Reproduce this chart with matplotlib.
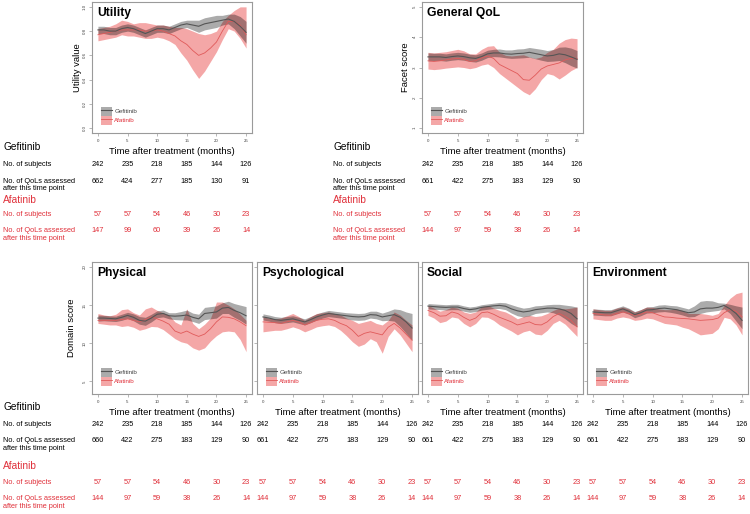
import matplotlib
matplotlib.use("Agg")
import matplotlib.pyplot as plt
from matplotlib.patches import Patch
from matplotlib.lines import Line2D
from matplotlib.transforms import blended_transform_factory

plt.rcParams['font.family'] = ['Liberation Sans', 'DejaVu Sans']

# ---- data -------------------------------------------------------------
months = list(range(26))
tick_months = [0, 5, 10, 15, 20, 25]

util_gef = [.81, .81, .80, .80, .82, .83, .82, .80, .78, .80, .82, .82, .81,
            .83, .85, .86, .85, .84, .86, .87, .88, .89, .90, .88, .84, .79]
util_gef_lo = [.78, .78, .77, .77, .79, .80, .79, .77, .75, .77, .79, .79, .78,
               .80, .82, .83, .81, .79, .81, .82, .83, .85, .86, .82, .76, .70]
util_gef_hi = [.84, .84, .83, .83, .85, .86, .85, .83, .81, .83, .85, .85, .84,
               .86, .88, .89, .89, .89, .91, .92, .93, .93, .94, .94, .92, .88]
util_afa = [.77, .78, .79, .80, .81, .81, .81, .81, .80, .80, .81, .80, .78,
            .76, .72, .69, .64, .60, .62, .66, .71, .80, .88, .88, .85, .77]
util_afa_lo = [.72, .73, .74, .75, .77, .76, .76, .75, .74, .74, .75, .74, .72,
               .69, .62, .56, .48, .41, .47, .55, .63, .73, .82, .80, .74, .66]
util_afa_hi = [.82, .83, .84, .86, .89, .88, .86, .87, .87, .86, .85, .85, .84,
               .83, .83, .82, .80, .78, .77, .78, .80, .88, .93, .97, 1.0, 1.0]

qol_gef = [3.35, 3.35, 3.35, 3.33, 3.36, 3.38, 3.36, 3.32, 3.30, 3.36, 3.45,
           3.48, 3.48, 3.45, 3.44, 3.46, 3.47, 3.50, 3.46, 3.42, 3.38, 3.40,
           3.45, 3.42, 3.35, 3.27]
qol_gef_lo = [3.22, 3.23, 3.23, 3.21, 3.24, 3.26, 3.24, 3.20, 3.18, 3.24, 3.33,
              3.36, 3.35, 3.32, 3.30, 3.31, 3.32, 3.34, 3.29, 3.24, 3.20, 3.21,
              3.23, 3.16, 3.06, 2.98]
qol_gef_hi = [3.48, 3.47, 3.47, 3.45, 3.48, 3.50, 3.48, 3.44, 3.42, 3.48, 3.57,
              3.60, 3.61, 3.58, 3.58, 3.61, 3.62, 3.66, 3.63, 3.60, 3.56, 3.59,
              3.67, 3.68, 3.64, 3.56]
qol_afa = [3.22, 3.20, 3.22, 3.25, 3.28, 3.30, 3.27, 3.20, 3.22, 3.32, 3.38,
           3.30, 3.10, 3.00, 2.90, 2.80, 2.60, 2.58, 2.75, 2.95, 3.05, 3.10,
           3.15, 3.25, 3.30, 3.30]
qol_afa_lo = [2.95, 2.93, 2.95, 2.98, 3.00, 3.02, 3.00, 2.96, 3.00, 3.08, 3.12,
              3.00, 2.80, 2.65, 2.50, 2.35, 2.20, 2.10, 2.30, 2.60, 2.80, 2.75,
              2.62, 2.75, 2.90, 3.00]
qol_afa_hi = [3.50, 3.48, 3.50, 3.52, 3.56, 3.60, 3.55, 3.45, 3.45, 3.60, 3.70,
              3.72, 3.50, 3.40, 3.38, 3.40, 3.42, 3.35, 3.30, 3.35, 3.50, 3.60,
              3.80, 3.92, 3.97, 3.95]

phys_gef = [13.3, 13.3, 13.25, 13.2, 13.4, 13.65, 13.4, 13.0, 12.9, 13.3, 13.8,
            13.9, 13.6, 13.55, 13.6, 13.7, 13.4, 13.2, 13.9, 14.0, 14.1, 14.6,
            14.7, 14.3, 14.0, 13.6]
phys_gef_lo = [12.9, 12.95, 12.9, 12.85, 13.0, 13.25, 12.95, 12.5, 12.35, 12.8,
               13.35, 13.45, 13.2, 13.1, 13.05, 13.05, 12.85, 12.6, 13.1, 13.2,
               13.3, 13.9, 13.9, 13.4, 13.0, 12.5]
phys_gef_hi = [13.7, 13.65, 13.6, 13.55, 13.8, 14.05, 13.85, 13.5, 13.4, 13.8,
               14.25, 14.35, 14.0, 14.0, 14.15, 14.35, 13.95, 13.8, 14.7, 14.8,
               14.9, 15.3, 15.5, 15.2, 15.0, 14.8]
phys_afa = [13.0, 13.0, 13.0, 13.0, 13.1, 13.2, 13.0, 12.8, 13.1, 13.45, 13.2,
            12.9, 12.5, 11.6, 11.3, 11.6, 11.2, 10.9, 11.2, 11.9, 12.8, 13.45,
            13.4, 13.2, 12.8, 12.3]
phys_afa_lo = [12.6, 12.5, 12.4, 12.4, 12.2, 12.3, 12.1, 11.7, 11.9, 12.2,
               12.15, 11.8, 11.2, 10.6, 10.2, 10.0, 9.4, 9.1, 9.4, 10.3, 11.0,
               11.5, 11.6, 11.5, 10.5, 8.9]
phys_afa_hi = [13.9, 13.7, 13.6, 13.8, 14.4, 14.5, 14.0, 13.7, 14.5, 14.75,
               14.3, 14.0, 13.7, 12.8, 12.4, 14.5, 12.6, 11.9, 12.5, 13.3, 15.4,
               15.4, 15.0, 14.5, 13.8, 13.0]

psy_gef = [13.45, 13.3, 13.1, 13.0, 13.1, 13.2, 13.0, 12.8, 13.1, 13.45, 13.7,
           13.9, 13.8, 13.7, 13.6, 13.5, 13.45, 13.5, 13.75, 13.7, 13.45, 13.6,
           13.75, 13.4, 12.8, 12.0]
psy_gef_lo = [13.05, 12.9, 12.7, 12.6, 12.7, 12.8, 12.6, 12.4, 12.7, 13.05,
              13.3, 13.5, 13.4, 13.3, 13.2, 13.05, 13.0, 13.05, 13.3, 13.2,
              12.95, 13.0, 12.9, 12.2, 11.3, 10.4]
psy_gef_hi = [13.85, 13.7, 13.5, 13.4, 13.5, 13.6, 13.4, 13.2, 13.5, 13.85,
              14.1, 14.3, 14.2, 14.1, 14.0, 13.95, 13.9, 13.95, 14.2, 14.2,
              13.95, 14.2, 14.5, 14.4, 14.1, 13.9]
psy_afa = [12.8, 12.75, 12.7, 12.6, 12.8, 13.0, 12.8, 12.4, 12.7, 13.0, 13.15,
           13.2, 13.0, 12.6, 12.3, 11.7, 10.9, 11.3, 11.5, 11.3, 11.1, 12.1,
           12.6, 12.0, 11.2, 10.4]
psy_afa_lo = [11.5, 11.6, 11.7, 11.7, 11.9, 12.15, 11.9, 11.5, 11.8, 12.15,
              12.3, 12.4, 12.2, 11.7, 11.0, 10.2, 9.6, 9.9, 10.6, 10.2, 8.7,
              10.9, 11.9, 11.1, 10.0, 8.9]
psy_afa_hi = [13.45, 13.3, 13.2, 13.3, 13.6, 13.9, 13.5, 13.0, 13.5, 13.9,
              14.0, 14.1, 13.9, 13.7, 13.3, 13.0, 12.6, 12.8, 13.0, 12.6, 12.4,
              13.0, 14.1, 13.7, 13.0, 12.4]

soc_gef = [14.87, 14.8, 14.74, 14.7, 14.74, 14.74, 14.55, 14.4, 14.5, 14.7,
           14.8, 14.9, 14.96, 14.85, 14.5, 14.25, 14.1, 14.2, 14.4, 14.5, 14.6,
           14.6, 14.5, 14.3, 13.9, 13.2]
soc_gef_lo = [14.5, 14.45, 14.4, 14.35, 14.4, 14.4, 14.2, 14.05, 14.15, 14.35,
              14.45, 14.55, 14.55, 14.4, 13.95, 13.6, 13.45, 13.6, 13.9, 14.0,
              14.1, 14.0, 13.7, 13.2, 12.6, 12.15]
soc_gef_hi = [15.2, 15.15, 15.1, 15.05, 15.1, 15.1, 14.9, 14.75, 14.85, 15.05,
              15.15, 15.25, 15.35, 15.3, 15.05, 14.8, 14.6, 14.7, 14.9, 14.95,
              15.05, 15.1, 15.1, 15.0, 14.9, 14.74]
soc_afa = [14.3, 14.0, 13.55, 13.6, 14.1, 13.9, 13.4, 13.0, 13.3, 14.0, 14.1,
           13.8, 13.4, 13.1, 12.8, 12.4, 12.6, 12.8, 12.45, 12.4, 12.8, 13.5,
           13.9, 13.5, 13.0, 12.15]
soc_afa_lo = [13.66, 13.3, 12.7, 12.9, 13.45, 13.3, 12.6, 12.15, 12.6, 13.45,
              13.4, 13.0, 12.4, 12.0, 11.6, 11.1, 11.5, 11.7, 11.2, 11.1, 11.7,
              12.6, 13.0, 12.5, 11.7, 10.9]
soc_afa_hi = [14.96, 14.6, 14.2, 14.4, 14.74, 14.6, 14.1, 13.9, 14.1, 14.8,
              14.96, 14.6, 14.3, 14.1, 13.7, 13.2, 13.5, 13.66, 13.5, 13.6,
              13.9, 14.3, 14.6, 14.5, 14.6, 14.74]

env_gef = [14.1, 14.05, 14.0, 14.0, 14.25, 14.5, 14.2, 13.75, 14.0, 14.35,
           14.4, 14.55, 14.6, 14.5, 14.4, 14.2, 14.0, 14.1, 14.5, 14.6, 14.6,
           14.7, 14.95, 14.5, 13.9, 13.0]
env_gef_lo = [13.7, 13.65, 13.6, 13.6, 13.85, 14.1, 13.8, 13.35, 13.6, 13.95,
              14.0, 14.1, 14.15, 14.05, 13.9, 13.7, 13.45, 13.5, 13.9, 14.1,
              14.2, 14.3, 14.5, 13.9, 12.9, 11.9]
env_gef_hi = [14.5, 14.45, 14.4, 14.4, 14.65, 14.9, 14.6, 14.15, 14.4, 14.75,
              14.8, 15.0, 15.05, 14.95, 14.9, 14.7, 14.5, 14.9, 15.5, 15.6,
              15.55, 15.3, 15.25, 15.1, 14.9, 14.74]
env_afa = [13.9, 13.8, 13.7, 13.66, 13.9, 14.1, 13.9, 13.66, 13.8, 14.1, 14.0,
           13.7, 13.45, 13.4, 13.3, 13.25, 13.2, 13.1, 13.0, 13.05, 13.1, 13.3,
           14.0, 14.4, 14.2, 13.45]
env_afa_lo = [13.2, 13.1, 13.0, 13.0, 13.3, 13.45, 13.3, 13.0, 13.1, 13.3,
              13.2, 12.9, 12.6, 12.5, 12.4, 12.1, 11.9, 11.5, 11.1, 11.2, 11.3,
              11.9, 13.4, 13.2, 12.4, 11.1]
env_afa_hi = [14.5, 14.4, 14.3, 14.3, 14.6, 14.74, 14.5, 14.1, 14.4, 14.74,
              14.7, 14.5, 14.4, 14.4, 14.5, 14.3, 13.9, 13.9, 13.9, 13.8, 13.66,
              13.9, 14.96, 15.9, 16.5, 16.7]

gef_subjects = [242, 235, 218, 185, 144, 126]
afa_subjects = [57, 57, 54, 46, 30, 23]
util_gef_qols = [662, 424, 277, 185, 130, 91]
util_afa_qols = [147, 99, 60, 39, 26, 14]
qol_gef_qols = [661, 422, 275, 183, 129, 90]
qol_afa_qols = [144, 97, 59, 38, 26, 14]
phys_gef_qols = [660, 422, 275, 183, 129, 90]
dom_gef_qols = [661, 422, 275, 183, 129, 90]
dom_afa_qols = [144, 97, 59, 38, 26, 14]

# ---- styling ----------------------------------------------------------
W, H = 750, 514
GRAY_BAND = (0, 0, 0, 0.33)
GRAY_LINE = '#555555'
RED_BAND = (0.91, 0.24, 0.24, 0.45)
RED_LINE = '#e05a5a'
RED_TEXT = '#e0303a'
BOX = '#9a9a9a'

fig = plt.figure(figsize=(W / 100, H / 100), dpi=100)


def px_axes(x0, x1, y0, y1):
    return fig.add_axes([x0 / W, 1 - y1 / H, (x1 - x0) / W, (y1 - y0) / H])


def panel(ax, title, gef, gef_lo, gef_hi, afa, afa_lo, afa_hi,
          ylim, yticks, ylabels):
    ax.fill_between(months, afa_lo, afa_hi, color=RED_BAND, lw=0)
    ax.plot(months, afa, color=RED_LINE, lw=0.6)
    ax.fill_between(months, gef_lo, gef_hi, color=GRAY_BAND, lw=0)
    ax.plot(months, gef, color=GRAY_LINE, lw=0.8)
    ax.set_xlim(-1, 26)
    ax.set_ylim(*ylim)
    ax.set_xticks(tick_months)
    ax.set_yticks(yticks)
    ax.tick_params(length=2.5, width=0.5, color=BOX, labelsize=3.2,
                   labelcolor='#444444', pad=1.5)
    if ylabels:
        ax.set_yticklabels([str(v) for v in yticks], rotation=90, va='center')
    else:
        ax.set_yticklabels([])
    for s in ax.spines.values():
        s.set_color(BOX)
        s.set_linewidth(0.8)
    ax.text(0.03, 0.965, title, transform=ax.transAxes, fontsize=8.7,
            fontweight='bold', va='top', ha='left')
    handles = [(Patch(facecolor=GRAY_BAND, lw=0), Line2D([], [], color=GRAY_LINE, lw=0.8)),
               (Patch(facecolor=RED_BAND, lw=0), Line2D([], [], color=RED_LINE, lw=0.6))]
    leg = ax.legend(handles, ['Gefitinib', 'Afatinib'], loc='lower left',
                    bbox_to_anchor=(0.03, 0.03), frameon=False, fontsize=4.5,
                    handlelength=1.7, handleheight=1.8, handletextpad=0.4,
                    labelspacing=0.05, borderpad=0.2)
    leg.get_texts()[0].set_color('#444444')
    leg.get_texts()[1].set_color(RED_TEXT)
    ax.set_xlabel('Time after treatment (months)', fontsize=6.8, labelpad=3)


def table(ax, label_x, ys, gef_qols, afa_qols):
    g_head, g_sub, g_qol, a_head, a_sub, a_qol = ys
    fs = 5.3
    if label_x is not None:
        fig.text(label_x / W, 1 - g_head / H, 'Gefitinib', fontsize=7.3, va='center')
        fig.text(label_x / W, 1 - g_sub / H, 'No. of subjects', fontsize=fs, va='center')
        fig.text(label_x / W, 1 - g_qol / H, 'No. of QoLs assessed', fontsize=fs, va='center')
        fig.text(label_x / W, 1 - (g_qol + 8) / H, 'after this time point', fontsize=fs, va='center')
        fig.text(label_x / W, 1 - a_head / H, 'Afatinib', fontsize=7.3, va='center', color=RED_TEXT)
        fig.text(label_x / W, 1 - a_sub / H, 'No. of subjects', fontsize=fs, va='center', color=RED_TEXT)
        fig.text(label_x / W, 1 - a_qol / H, 'No. of QoLs assessed', fontsize=fs, va='center', color=RED_TEXT)
        fig.text(label_x / W, 1 - (a_qol + 8) / H, 'after this time point', fontsize=fs, va='center', color=RED_TEXT)
    tr = blended_transform_factory(ax.transData, fig.transFigure)
    for t, a, b, c, d in zip(tick_months, gef_subjects, gef_qols, afa_subjects, afa_qols):
        ax.text(t, 1 - g_sub / H, str(a), transform=tr, fontsize=fs, ha='center', va='center')
        ax.text(t, 1 - g_qol / H, str(b), transform=tr, fontsize=fs, ha='center', va='center')
        ax.text(t, 1 - a_sub / H, str(c), transform=tr, fontsize=fs, ha='center', va='center', color=RED_TEXT)
        ax.text(t, 1 - a_qol / H, str(d), transform=tr, fontsize=fs, ha='center', va='center', color=RED_TEXT)


top_rows = (147, 164, 181, 200, 214, 230)
bottom_rows = (407, 424, 441, 466, 483, 499)
dom_ylim = (3.36, 20.64)
dom_ticks = [5, 10, 15, 20]

ax_u = px_axes(92, 252, 2, 133)
panel(ax_u, 'Utility', util_gef, util_gef_lo, util_gef_hi,
      util_afa, util_afa_lo, util_afa_hi, (-0.04, 1.04),
      [0.0, 0.2, 0.4, 0.6, 0.8, 1.0], True)
ax_u.set_ylabel('Utility value', fontsize=6.8, labelpad=0.5)
table(ax_u, 3, top_rows, util_gef_qols, util_afa_qols)

ax_q = px_axes(422, 583, 2, 133)
panel(ax_q, 'General QoL', qol_gef, qol_gef_lo, qol_gef_hi,
      qol_afa, qol_afa_lo, qol_afa_hi, (0.84, 5.16), [1, 2, 3, 4, 5], True)
ax_q.set_ylabel('Facet score', fontsize=6.8, labelpad=2)
table(ax_q, 333, top_rows, qol_gef_qols, qol_afa_qols)

ax_p = px_axes(92, 252, 262, 394)
panel(ax_p, 'Physical', phys_gef, phys_gef_lo, phys_gef_hi,
      phys_afa, phys_afa_lo, phys_afa_hi, dom_ylim, dom_ticks, True)
ax_p.set_ylabel('Domain score', fontsize=6.8, labelpad=5)
table(ax_p, 3, bottom_rows, phys_gef_qols, dom_afa_qols)

ax_s1 = px_axes(257, 418, 262, 394)
panel(ax_s1, 'Psychological', psy_gef, psy_gef_lo, psy_gef_hi,
      psy_afa, psy_afa_lo, psy_afa_hi, dom_ylim, dom_ticks, False)
table(ax_s1, None, bottom_rows, dom_gef_qols, dom_afa_qols)

ax_s2 = px_axes(422, 583, 262, 394)
panel(ax_s2, 'Social', soc_gef, soc_gef_lo, soc_gef_hi,
      soc_afa, soc_afa_lo, soc_afa_hi, dom_ylim, dom_ticks, False)
table(ax_s2, None, bottom_rows, dom_gef_qols, dom_afa_qols)

ax_e = px_axes(587, 748, 262, 394)
panel(ax_e, 'Environment', env_gef, env_gef_lo, env_gef_hi,
      env_afa, env_afa_lo, env_afa_hi, dom_ylim, dom_ticks, False)
table(ax_e, None, bottom_rows, dom_gef_qols, dom_afa_qols)

fig.savefig('out.png', dpi=100)
